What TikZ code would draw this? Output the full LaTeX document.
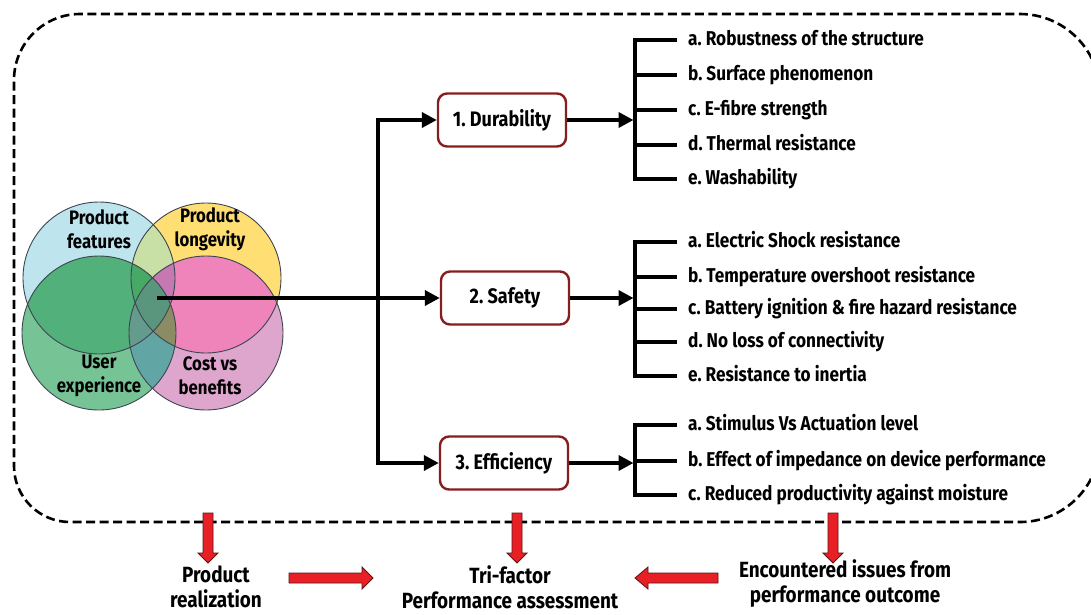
\documentclass[tikz,border=0pt]{standalone}
\usepackage{fontspec}
\newfontfamily\cbold{Fira Sans}[FakeStretch=0.86]
\usetikzlibrary{arrows.meta}
\frenchspacing
\definecolor{cB}{RGB}{190,228,238}
\definecolor{cY}{RGB}{255,222,115}
\definecolor{cBY}{RGB}{200,224,165}
\definecolor{cG}{RGB}{118,196,150}
\definecolor{cGY}{RGB}{110,185,110}
\definecolor{cGB}{RGB}{82,176,122}
\definecolor{cGBY}{RGB}{72,168,102}
\definecolor{cP}{RGB}{222,165,205}
\definecolor{cPY}{RGB}{238,132,186}
\definecolor{cPB}{RGB}{200,122,180}
\definecolor{cPBY}{RGB}{198,120,178}
\definecolor{cPG}{RGB}{98,165,165}
\definecolor{cPGY}{RGB}{140,140,100}
\definecolor{cPGB}{RGB}{100,155,140}
\definecolor{cPGBY}{RGB}{90,150,125}
\definecolor{boxred}{RGB}{135,30,30}
\definecolor{arrred}{RGB}{232,32,38}
\definecolor{arrdark}{RGB}{90,20,20}
\definecolor{venline}{RGB}{60,70,80}
\tikzset{
  border/.style={line width=2.6pt, dash pattern=on 9pt off 4.5pt, line cap=butt},
  venn/.style={draw=venline, line width=0.9pt},
  venntext/.style={align=center, font=\cbold\bfseries\frenchspacing\fontsize{19.5}{24}\selectfont},
  catbox/.style={draw=boxred, line width=2.4pt, rounded corners=9pt, fill=white,
    minimum width=128pt, minimum height=53pt, font=\cbold\bfseries\frenchspacing\fontsize{21}{24}\selectfont},
  conn/.style={line width=3.6pt, -{Triangle[length=15pt,width=15pt]}},
  brk/.style={line width=3.6pt, line cap=butt},
  item/.style={anchor=west, inner sep=0pt, text height=13pt, text depth=3pt,
    font=\cbold\bfseries\frenchspacing\fontsize{20}{24}\selectfont},
  redarrow/.style={fill=arrred, draw=arrdark, line width=0.8pt, line join=miter},
  bottomtext/.style={align=center, font=\cbold\bfseries\frenchspacing\fontsize{22}{25}\selectfont}
}
\begin{document}
\begin{tikzpicture}[x=1pt,y=-1pt]
\useasboundingbox (0,0) rectangle (1091,614);
\fill[white] (0,0) rectangle (1091,614);
% dashed frame
\begin{scope}
\clip (0,0) rectangle (1091,614);
\draw[border] (14,268) [rounded corners=66pt] -- (14,14) [rounded corners=80pt] -- (1100,14) -- (1100,522) [rounded corners=56pt] -- (14,522) -- cycle;
\end{scope}
% Venn circles (regions coloured explicitly)
\def\cB{(99,278) circle (76)}
\def\cY{(206,278) circle (75)}
\def\cG{(99,333) circle (77)}
\def\cP{(206,333) circle (77)}
\fill[cB] \cB;
\fill[cY] \cY;
\begin{scope}\clip \cB; \fill[cBY] \cY; \end{scope}
\fill[cG] \cG;
\begin{scope}\clip \cG;
  \fill[cGY] \cY; \fill[cGB] \cB;
  \begin{scope}\clip \cB; \fill[cGBY] \cY; \end{scope}
\end{scope}
\fill[cP] \cP;
\begin{scope}\clip \cP;
  \fill[cPY] \cY; \fill[cPB] \cB;
  \begin{scope}\clip \cB; \fill[cPBY] \cY; \end{scope}
  \fill[cPG] \cG;
  \begin{scope}\clip \cG;
    \fill[cPGY] \cY; \fill[cPGB] \cB;
    \begin{scope}\clip \cB; \fill[cPGBY] \cY; \end{scope}
  \end{scope}
\end{scope}
\draw[venn] \cB;
\draw[venn] \cY;
\draw[venn] \cG;
\draw[venn] \cP;
\node[venntext] (pf) at (99,229) {Product\\features};
\node[venntext] (pl) at (210,229) {Product\\longevity};
\node[venntext] (ux) at (99,376) {User\\experience};
\node[venntext] (cb) at (210,376) {Cost vs\\benefits};
\coordinate (vc) at (157,298);
% category boxes
\node[catbox] (dur) at (502,120) {1. Durability};
\node[catbox] (saf) at (505,298) {2. Safety};
\node[catbox] (eff) at (504,463) {3. Efficiency};
\coordinate (jt) at (378,298);
\draw[conn] (vc) -- (saf.west);
\draw[conn] (jt) |- (dur.west);
\draw[conn] (jt) |- (eff.west);
% bracket x positions
\coordinate (bx) at (635,0);
% Durability items
\node[item] (d1) at (688,40) {a. Robustness of the structure};
\node[item] (d2) at (688,75) {b. Surface phenomenon};
\node[item] (d3) at (688,110) {c. E-fibre strength};
\node[item] (d4) at (688,145) {d. Thermal resistance};
\node[item] (d5) at (688,179) {e. Washability};
\draw[brk] ([xshift=-11pt]d1.west) -- (d1.west -| bx) -- (d5.west -| bx) -- ([xshift=-11pt]d5.west);
\foreach \n in {d2,d3,d4} \draw[brk] (\n.west -| bx) -- ([xshift=-11pt]\n.west);
\draw[conn] (dur.east) -- ([xshift=-1.5pt]dur.east -| bx);
% Safety items
\node[item] (s1) at (688,242) {a. Electric Shock resistance};
\node[item] (s2) at (688,277) {b. Temperature overshoot resistance};
\node[item] (s3) at (688,309) {c. Battery ignition \& fire hazard resistance};
\node[item] (s4) at (688,342) {d. No loss of connectivity};
\node[item] (s5) at (688,376) {e. Resistance to inertia};
\draw[brk] ([xshift=-11pt]s1.west) -- (s1.west -| bx) -- (s5.west -| bx) -- ([xshift=-11pt]s5.west);
\foreach \n in {s2,s3,s4} \draw[brk] (\n.west -| bx) -- ([xshift=-11pt]\n.west);
\draw[conn] (saf.east) -- ([xshift=-1.5pt]saf.east -| bx);
% Efficiency items
\node[item] (e1) at (688,425) {a. Stimulus Vs Actuation level};
\node[item] (e2) at (688,461) {b. Effect of impedance on device performance};
\node[item] (e3) at (688,495) {c. Reduced productivity against moisture};
\draw[brk] ([xshift=-11pt]e1.west) -- (e1.west -| bx) -- (e3.west -| bx) -- ([xshift=-11pt]e3.west);
\draw[brk] (e2.west -| bx) -- ([xshift=-11pt]e2.west);
\draw[conn] (eff.east) -- ([xshift=-1.5pt]eff.east -| bx);
% red down arrows
\foreach \ax in {208,517,833} {
  \begin{scope}[shift={(\ax,513)}]
  \draw[redarrow] (-5,0) -- (5,0) -- (5,40) -- (10,40) -- (0,50) -- (-10,40) -- (-5,40) -- cycle;
  \end{scope}
}
% horizontal red arrows
\begin{scope}[shift={(289,578)}]
\draw[redarrow] (0,-5) -- (73,-5) -- (73,-11) -- (84,0) -- (73,11) -- (73,5) -- (0,5) -- cycle;
\end{scope}
\begin{scope}[shift={(718,578)}]
\draw[redarrow] (0,-5) -- (-70,-5) -- (-70,-11) -- (-83,0) -- (-70,11) -- (-70,5) -- (0,5) -- cycle;
\end{scope}
% bottom texts
\node[bottomtext] (pr) at (216,587) {Product\\realization};
\node[bottomtext] (tf) at (510,587) {Tri-factor\\Performance assessment};
\node[bottomtext] (ei) at (845,584) {Encountered issues from\\performance outcome};
\end{tikzpicture}
\end{document}
